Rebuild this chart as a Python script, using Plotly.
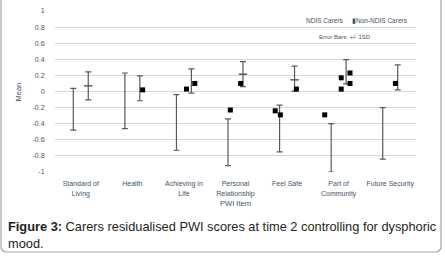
import plotly.graph_objects as go

# ---------------- data ----------------
categories = ["Standard of<br>Living", "Health", "Achieving in<br>Life", "Personal<br>Relationship",
              "Feel Safe", "Part of<br>Community", "Future Security"]
ndis_mean = [-0.22, -0.115, -0.385, -0.63, -0.46, -0.70, -0.52]
ndis_sd = [0.26, 0.345, 0.345, 0.29, 0.29, 0.30, 0.32]
non_ndis_mean = [0.07, 0.04, 0.13, 0.215, 0.16, 0.245, 0.175]
non_ndis_sd = [0.175, 0.155, 0.15, 0.155, 0.155, 0.15, 0.155]
# mean dashes visible on the Non-NDIS error bars
non_ndis_dash = [0.07, None, None, 0.215, 0.145, None, None]
# scattered black square markers (category index, value)
marker_cat = [1, 2, 2, 3, 3, 4, 4, 4, 5, 5, 5, 5, 5, 6]
marker_val = [0.02, 0.03, 0.10, -0.23, 0.10, -0.24, -0.29, 0.03, -0.29, 0.17, 0.03, 0.23, 0.10, 0.10]
marker_off = [0.2, 0.05, 0.21, -0.1, 0.1, -0.23, -0.13, 0.18, -0.27, 0.05, 0.05, 0.22, 0.22, 0.1]
y_ticks = [1, 0.8, 0.6, 0.4, 0.2, 0, -0.2, -0.4, -0.6, -0.8, -1]
y_ticktext = ["1", "0.8", "0.6", "0.4", "0.2", "0", "-0.2", "-0.4", "-0.6", "-0.8", "-1"]

# ---------------- layout helpers ----------------
W, H = 445, 257
L, R, T, B = 55, 416, 11, 172
OFF = 0.145
axis_col = "#595959"
grid_col = "#d9d9d9"
text_col = "#44546a"


def px(x):
    return (x - L) / (R - L)


def py(y):
    return (B - y) / (B - T)


idx = list(range(len(categories)))

fig = go.Figure()
fig.add_trace(go.Scatter(
    x=[i - OFF for i in idx], y=ndis_mean, mode="markers", name="NDIS Carers",
    marker=dict(size=1, color="rgba(0,0,0,0)"),
    error_y=dict(type="data", array=ndis_sd, color=axis_col, thickness=1.2, width=3),
    showlegend=False))
fig.add_trace(go.Scatter(
    x=[i + OFF for i in idx], y=non_ndis_mean, mode="markers", name="Non-NDIS Carers",
    marker=dict(size=1, color="rgba(0,0,0,0)"),
    error_y=dict(type="data", array=non_ndis_sd, color=axis_col, thickness=1.2, width=3),
    showlegend=False))
fig.add_trace(go.Scatter(
    x=[i + OFF for i in idx], y=non_ndis_dash, mode="markers",
    marker=dict(symbol="line-ew", size=6, line=dict(color=axis_col, width=1.5)),
    showlegend=False, hoverinfo="skip"))
fig.add_trace(go.Scatter(
    x=[c + o for c, o in zip(marker_cat, marker_off)], y=marker_val, mode="markers",
    marker=dict(symbol="square", size=5, color="black"),
    showlegend=False))

fig.update_layout(
    width=W, height=H,
    margin=dict(l=L, r=W - R, t=T, b=H - B, autoexpand=False),
    paper_bgcolor="white", plot_bgcolor="white",
    font=dict(family="Liberation Sans, Arial, sans-serif", size=7, color=text_col),
    xaxis=dict(range=[-0.5, len(categories) - 0.5], tickmode="array", tickvals=idx,
               ticktext=categories, showgrid=False, zeroline=False, showline=False,
               automargin=False,
               ticks="outside", ticklen=5, tickcolor="rgba(0,0,0,0)",
               tickfont=dict(size=7, color=text_col),
               title=dict(text="PWI Item", font=dict(size=7.5, color=text_col), standoff=4)),
    yaxis=dict(range=[-1, 1], tickmode="array", tickvals=y_ticks, ticktext=y_ticktext,
               showgrid=True, gridcolor=grid_col, gridwidth=1, zeroline=False,
               showline=False, automargin=False,
               ticks="outside", ticklen=8, tickcolor="rgba(0,0,0,0)",
               tickfont=dict(size=7, color=text_col)),
    showlegend=False,
)

# y axis title
fig.add_annotation(x=px(12), y=py(92), xref="paper", yref="paper", text="Mean",
                   textangle=-90, showarrow=False, font=dict(size=7.5, color=text_col))

# legend-like labels drawn as text
fig.add_annotation(x=px(346), y=py(20.5), xref="paper", yref="paper", xanchor="right",
                   yanchor="middle", text="NDIS Carers", showarrow=False,
                   font=dict(size=6.5, color=text_col))
fig.add_annotation(x=px(350), y=py(20.5), xref="paper", yref="paper", xanchor="left",
                   yanchor="middle", text="\u25AENon-NDIS Carers", showarrow=False,
                   font=dict(size=6.5, color=text_col))
fig.add_annotation(x=px(345), y=py(36.5), xref="paper", yref="paper", xanchor="center",
                   yanchor="middle", text="Error Bars: +/- 1SD", showarrow=False,
                   font=dict(size=6, color=text_col))

# figure caption
fig.add_annotation(x=px(6), y=py(227), xref="paper", yref="paper", xanchor="left",
                   yanchor="middle",
                   text="<b>Figure 3:</b> Carers residualised PWI scores at time 2 controlling for dysphoric",
                   showarrow=False, font=dict(family="Liberation Sans, Arial", size=12.8, color="#231f20"))
fig.add_annotation(x=px(6), y=py(243), xref="paper", yref="paper", xanchor="left",
                   yanchor="middle", text="mood.", showarrow=False,
                   font=dict(family="Liberation Sans, Arial", size=12.8, color="#231f20"))

# outer rounded frame
x0, x1, yb, yt = px(1), px(441), py(252), py(-5)
rx, ry = 6 / (R - L), 6 / (B - T)
path = (f"M {x0},{yt} L {x0},{yb + ry} Q {x0},{yb} {x0 + rx},{yb} "
        f"L {x1 - rx},{yb} Q {x1},{yb} {x1},{yb + ry} L {x1},{yt}")
fig.add_shape(type="path", path=path, xref="paper", yref="paper",
              line=dict(color="#a6a6a6", width=1.2))

fig.write_html("out.html", config={"displayModeBar": False},
               post_script="document.body.style.margin='0';document.body.style.overflow='hidden';")
